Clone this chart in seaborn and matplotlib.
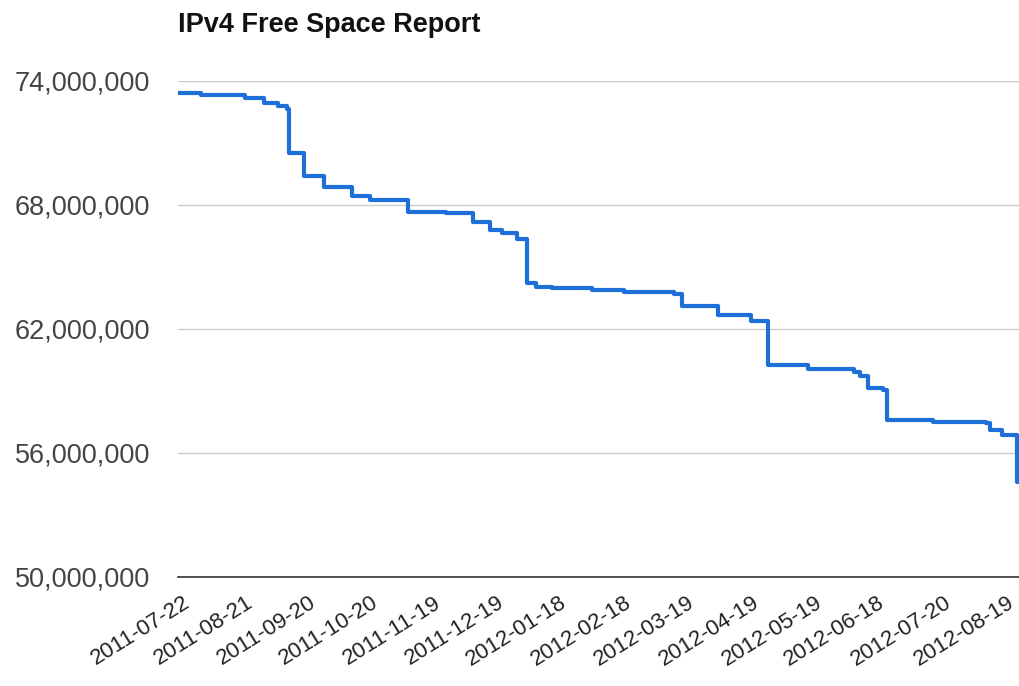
import pandas as pd
import seaborn as sns
import matplotlib.pyplot as plt
from matplotlib.ticker import FuncFormatter
from matplotlib.transforms import ScaledTranslation

# step changes (date, free addresses in millions)
change_dates = [
    "2011-07-15", "2011-07-26", "2011-08-16", "2011-08-25", "2011-09-01",
    "2011-09-05", "2011-09-06", "2011-09-13", "2011-09-23", "2011-10-06",
    "2011-10-15", "2011-11-02", "2011-11-20", "2011-12-03", "2011-12-11",
    "2011-12-17", "2011-12-24", "2011-12-29", "2012-01-02", "2012-01-10",
    "2012-01-29", "2012-02-13", "2012-03-08", "2012-03-12", "2012-03-29",
    "2012-04-14", "2012-04-22", "2012-05-11", "2012-06-02", "2012-06-05",
    "2012-06-09", "2012-06-16", "2012-06-18", "2012-07-10", "2012-08-04",
    "2012-08-06", "2012-08-12", "2012-08-19", "2012-08-20",
]
free_millions = [
    73.43, 73.32, 73.16, 72.92, 72.79,
    72.63, 70.53, 69.40, 68.89, 68.44,
    68.24, 67.68, 67.62, 67.19, 66.79,
    66.63, 66.34, 64.21, 64.05, 63.97,
    63.89, 63.78, 63.70, 63.11, 62.68,
    62.36, 60.26, 60.05, 59.94, 59.70,
    59.13, 59.05, 57.60, 57.50, 57.44,
    57.12, 56.87, 54.61, 54.61,
]
tick_dates = [
    "2011-07-22", "2011-08-21", "2011-09-20", "2011-10-20", "2011-11-19",
    "2011-12-19", "2012-01-18", "2012-02-18", "2012-03-19", "2012-04-19",
    "2012-05-19", "2012-06-18", "2012-07-20", "2012-08-19",
]
y_ticks = [50_000_000, 56_000_000, 62_000_000, 68_000_000, 74_000_000]

df = pd.DataFrame({
    "date": pd.to_datetime(change_dates),
    "free": [v * 1_000_000 for v in free_millions],
})

sns.set_style("white")
plt.rcParams["font.family"] = ["Liberation Sans", "DejaVu Sans"]

fig = plt.figure(figsize=(10.19, 6.86), dpi=100)
ax = fig.add_axes([0.1747, 0.159, 0.8253, 0.723])

sns.lineplot(data=df, x="date", y="free", ax=ax, color="#1f6fd8",
             linewidth=3.0, drawstyle="steps-post")

ax.set_xlim(pd.Timestamp("2011-07-15"), pd.Timestamp("2012-08-20"))
ax.set_ylim(50_000_000, 74_000_000)
ax.set_yticks(y_ticks)
ax.yaxis.set_major_formatter(FuncFormatter(lambda v, p: f"{int(v):,}"))
ax.set_xticks(pd.to_datetime(tick_dates))
ax.set_xticklabels(tick_dates, rotation=32, ha="right", rotation_mode="anchor")

ax.grid(axis="y", color="#cccccc", linewidth=1)
ax.set_axisbelow(True)
for side in ["left", "right", "top"]:
    ax.spines[side].set_visible(False)
ax.spines["bottom"].set_color("#333333")
ax.spines["bottom"].set_linewidth(1.2)
ax.tick_params(axis="y", length=0, pad=20, labelsize=19.5, labelcolor="#444444")
ax.tick_params(axis="x", length=0, pad=11, labelsize=16, labelcolor="#222222")
ax.set_xlabel("")
ax.set_ylabel("")

# nudge the rotated labels a touch left so the last one fits like the original
# (done after tick_params, which resets the label transforms)
shift = ScaledTranslation(-7 / 72, 0, fig.dpi_scale_trans)
for tick in ax.xaxis.get_major_ticks():
    tick.label1.set_transform(tick.label1.get_transform() + shift)

fig.text(0.1747, 0.963, "IPv4 Free Space Report", fontsize=19.5,
         fontweight="bold", ha="left", va="center", color="#111111")

fig.savefig("out.png", dpi=100)
